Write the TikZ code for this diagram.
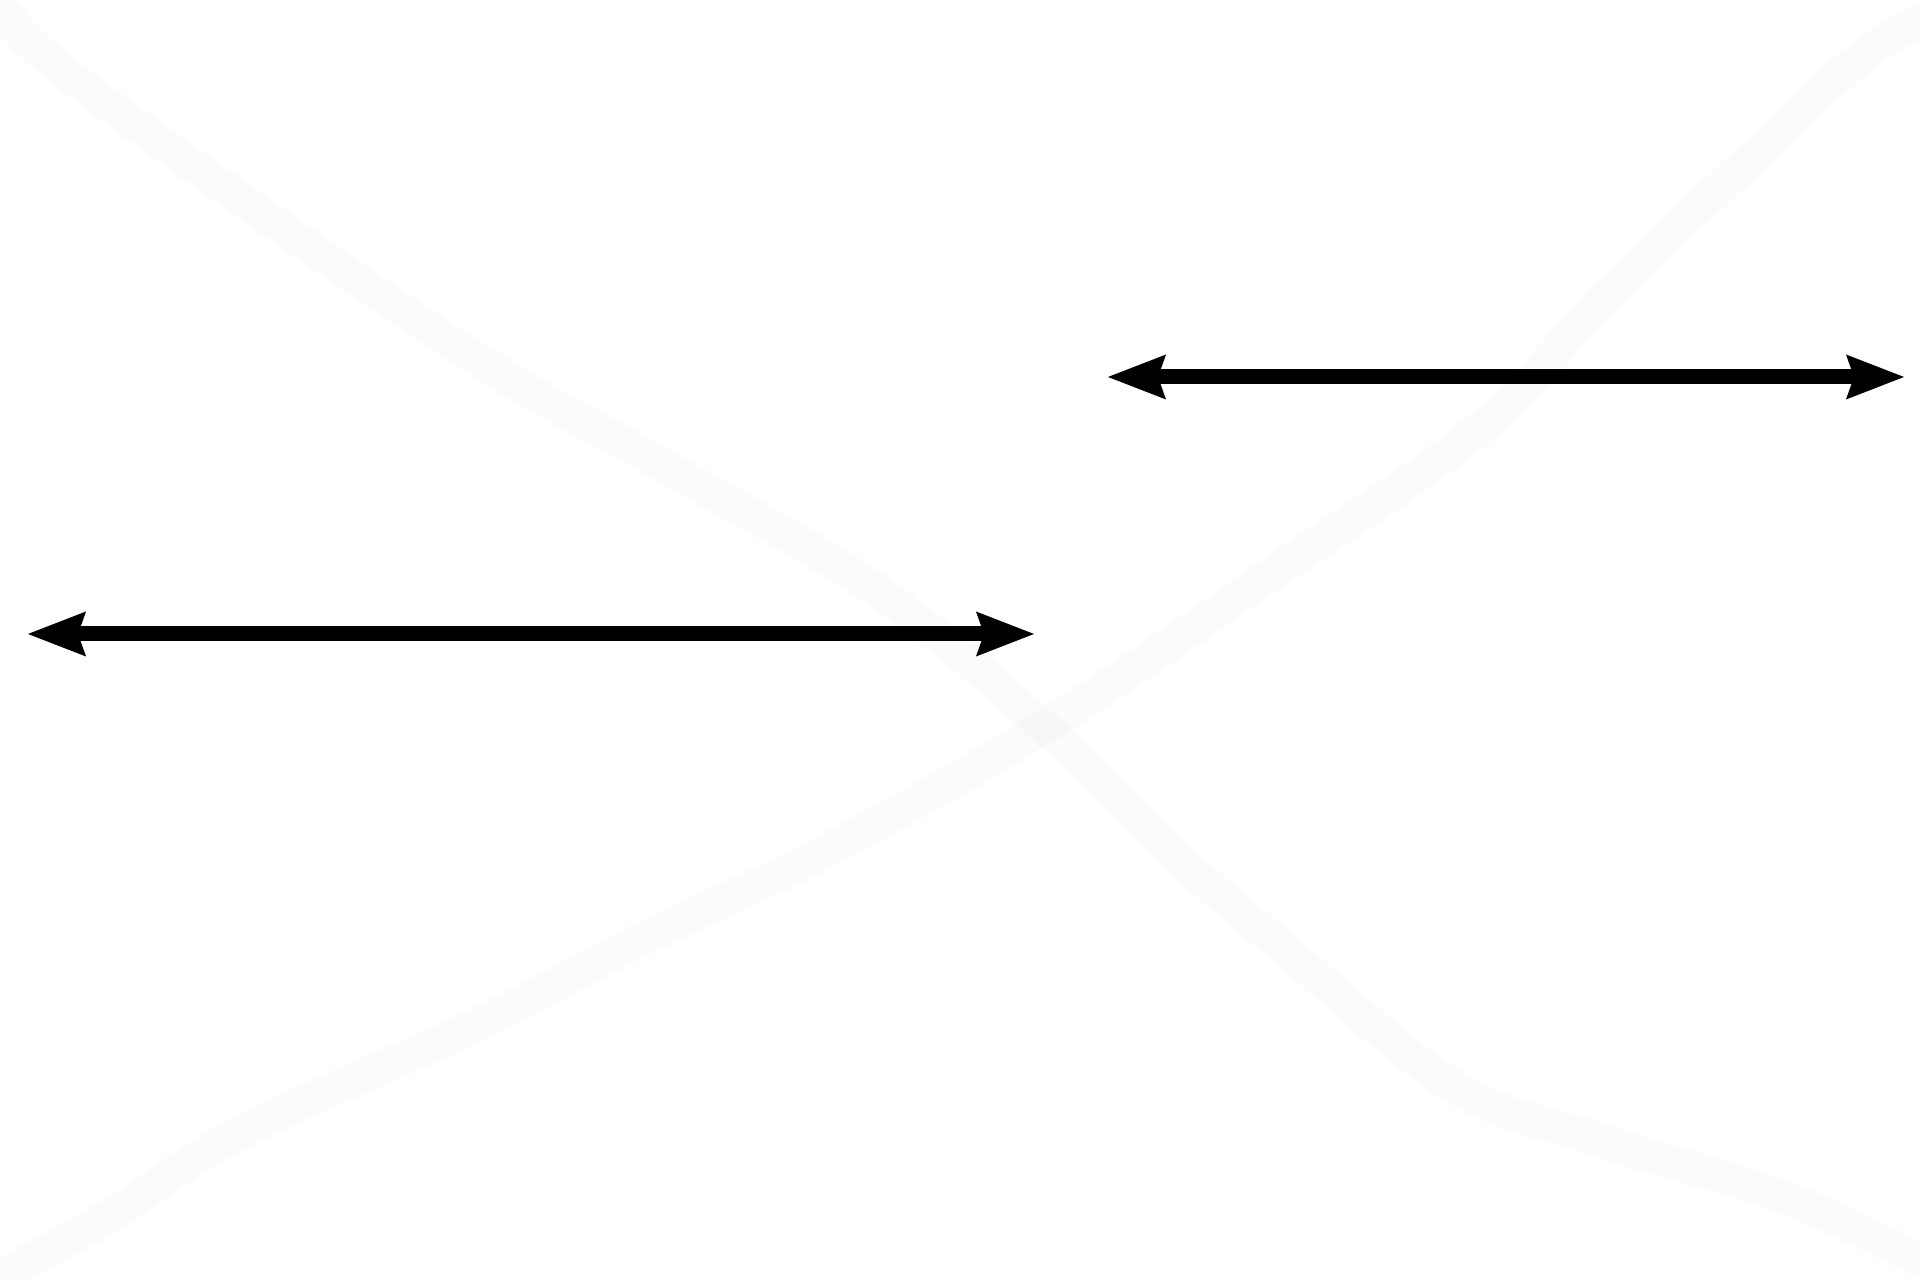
\documentclass[tikz,border=0pt]{standalone}
\usetikzlibrary{arrows.meta}
\begin{document}
\begin{tikzpicture}[x=0.01cm,y=-0.01cm,
  band/.style={draw=black,draw opacity=0.016,line width=0.34cm,line cap=butt,line join=round},
  dblarrow/.style={draw=black,line width=0.15cm,
    {Stealth[length=0.58cm,width=0.45cm,inset=0.08cm,line width=0pt]}-{Stealth[length=0.58cm,width=0.45cm,inset=0.08cm,line width=0pt]}}]
\useasboundingbox[fill=white] (0,0) rectangle (1920,1280);
% faint background strokes
\draw[band] plot[smooth,tension=0.6] coordinates {
  (-12,-22) (37,49) (245,202) (490,367) (686,478) (882,594) (1044,727)
  (1174,854) (1280,945) (1455,1087) (1606,1142) (1786,1198) (1920,1260) (1950,1278)};
\draw[band] plot[smooth,tension=0.6] coordinates {
  (-25,1290) (106,1218) (245,1130) (475,1026) (640,940) (822,853) (1044,727)
  (1270,575) (1482,427) (1602,300) (1739,170) (1864,55) (1945,10)};
% arrows
\coordinate (la) at (28,634);
\coordinate (lb) at (1034,634);
\coordinate (ua) at (1108,377);
\coordinate (ub) at (1904,377);
\draw[dblarrow] (la) -- (lb);
\draw[dblarrow] (ua) -- (ub);
\end{tikzpicture}
\end{document}
